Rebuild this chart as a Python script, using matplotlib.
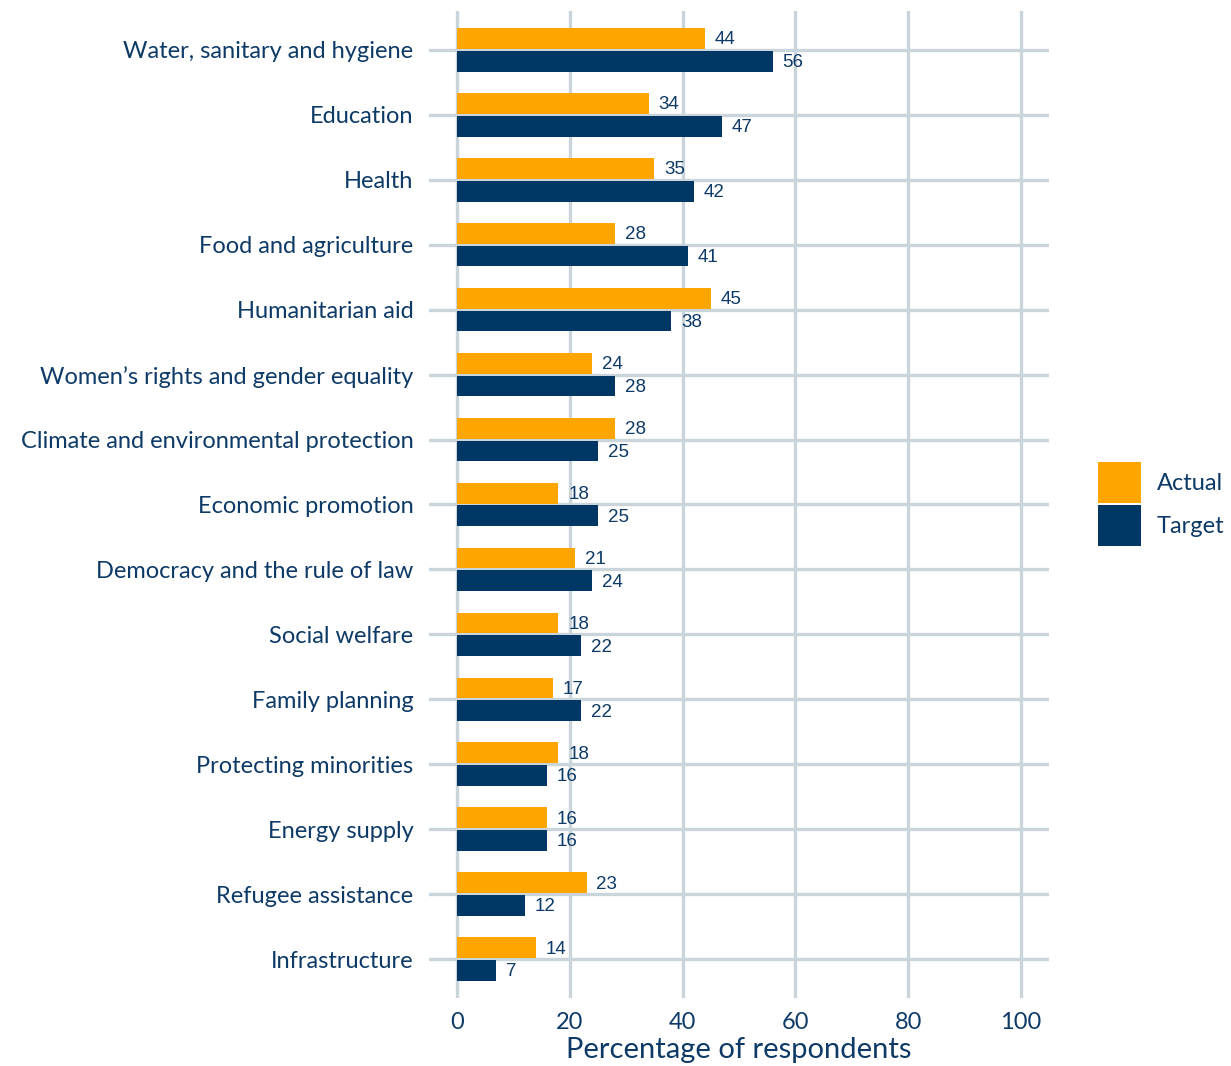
import matplotlib
matplotlib.use("Agg")
import matplotlib.pyplot as plt
from matplotlib.patches import Patch
import numpy as np

categories = [
    "Water, sanitary and hygiene",
    "Education",
    "Health",
    "Food and agriculture",
    "Humanitarian aid",
    "Women\u2019s rights and gender equality",
    "Climate and environmental protection",
    "Economic promotion",
    "Democracy and the rule of law",
    "Social welfare",
    "Family planning",
    "Protecting minorities",
    "Energy supply",
    "Refugee assistance",
    "Infrastructure",
]
actual = [44, 34, 35, 28, 45, 24, 28, 18, 21, 18, 17, 18, 16, 23, 14]
target = [56, 47, 42, 41, 38, 28, 25, 25, 24, 22, 22, 16, 16, 12, 7]
x_ticks = [0, 20, 40, 60, 80, 100]

ORANGE = "#ffa500"
NAVY = "#003764"
TEXT = "#0d3a66"
GRID = "#c9d4db"
LABEL_FONT = ["Lato", "DejaVu Sans"]
VALUE_FONT = ["Liberation Sans", "DejaVu Sans"]

fig = plt.figure(figsize=(12.31, 10.66), dpi=100)
ax = fig.add_axes([0.3483, 0.0638, 0.504, 0.9259])

y = np.arange(len(categories))
offset = 0.175
height = 0.32

ax.barh(y - offset, actual, height=height, color=ORANGE, zorder=3)
ax.barh(y + offset, target, height=height, color=NAVY, zorder=3)

for yi, a, t in zip(y, actual, target):
    ax.annotate(str(a), (a, yi - offset), xytext=(7, -1), textcoords="offset points",
                va="center", ha="left", fontsize=13.5, color=TEXT, family=VALUE_FONT, zorder=4)
    ax.annotate(str(t), (t, yi + offset), xytext=(7, -1), textcoords="offset points",
                va="center", ha="left", fontsize=13.5, color=TEXT, family=VALUE_FONT, zorder=4)

ax.set_xlim(-5, 105)
ax.set_ylim(len(categories) - 0.4, -0.6)
ax.set_xticks(x_ticks)
ax.set_yticks(y)
ax.set_yticklabels(categories)

for lbl in ax.get_yticklabels() + ax.get_xticklabels():
    lbl.set_family(LABEL_FONT)
    lbl.set_fontsize(17)
    lbl.set_color(TEXT)

ax.tick_params(axis="both", length=0)
ax.tick_params(axis="y", pad=11)
ax.tick_params(axis="x", pad=10)
ax.grid(True, color=GRID, linewidth=2.4, zorder=0)
ax.set_axisbelow(True)
for spine in ax.spines.values():
    spine.set_visible(False)

ax.set_xlabel("Percentage of respondents", fontsize=21, color=TEXT, family=LABEL_FONT, labelpad=3)

handles = [Patch(facecolor=ORANGE, label="Actual"), Patch(facecolor=NAVY, label="Target")]
leg = fig.legend(handles=handles, loc="center left", bbox_to_anchor=(0.892, 0.527),
                 frameon=False, handlelength=1.8, handleheight=2.3, handletextpad=0.7,
                 labelspacing=0.08, borderpad=0, borderaxespad=0,
                 prop={"family": LABEL_FONT, "size": 17})
for txt in leg.get_texts():
    txt.set_color(TEXT)

fig.savefig("out.png", dpi=100)
